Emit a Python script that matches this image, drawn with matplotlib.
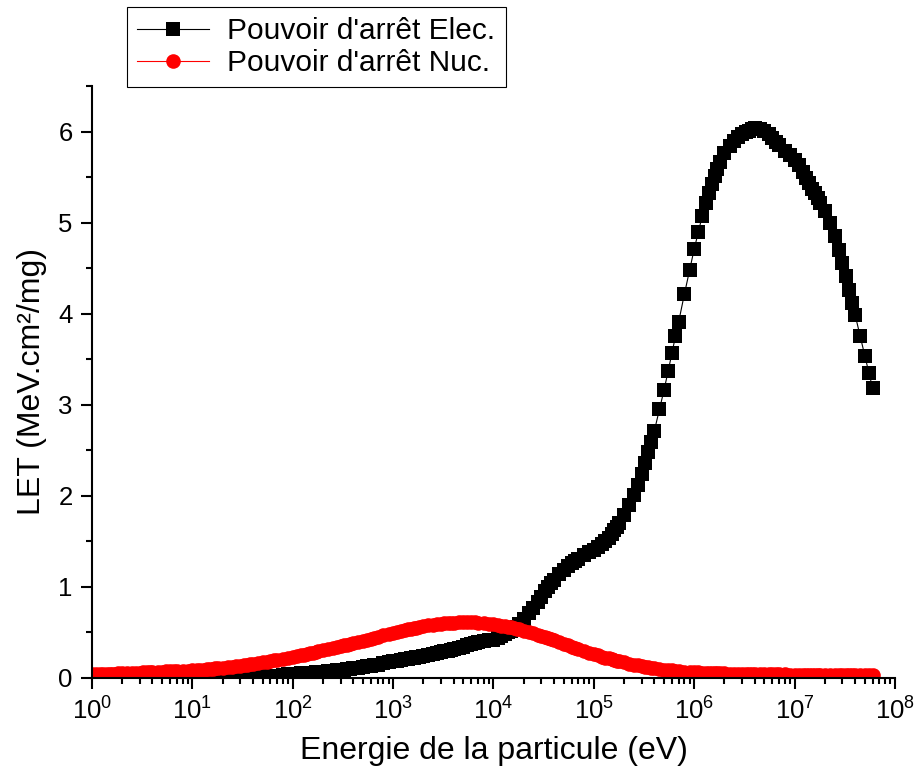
import matplotlib
matplotlib.use('Agg')
import matplotlib.pyplot as plt
from matplotlib.ticker import FixedLocator, LogLocator, MultipleLocator

plt.rcParams['font.family'] = ['Liberation Sans', 'DejaVu Sans']
plt.rcParams['mathtext.fontset'] = 'custom'
plt.rcParams['mathtext.rm'] = 'Liberation Sans'
plt.rcParams['mathtext.it'] = 'Liberation Sans:italic'

# grille d'énergie de la table SRIM (pas dans chaque décade)
srim_steps = [1.0, 1.1, 1.2, 1.3, 1.4, 1.5, 1.6, 1.7, 1.8, 2.0, 2.25, 2.5, 2.75,
              3.0, 3.25, 3.5, 3.75, 4.0, 4.5, 5.0, 5.5, 6.0, 6.5, 7.0, 8.0, 9.0]

# pouvoir d'arrêt électronique (MeV.cm2/mg), une liste par décade, 1 eV -> 60 MeV
elec_d0 = [.0010, .0011, .0011, .0012, .0012, .0013, .0013, .0014, .0014, .0015, .0016, .0017, .0018,
           .0019, .0020, .0021, .0022, .0023, .0024, .0026, .0027, .0029, .0030, .0031, .0034, .0036]
elec_d1 = [.0038, .0041, .0044, .0047, .0050, .0053, .0056, .0059, .0062, .0068, .0076, .0084, .0092,
           .0100, .0108, .0116, .0124, .013, .015, .017, .019, .021, .024, .026, .033, .039]
elec_d2 = [.045, .048, .050, .053, .055, .058, .060, .062, .065, .069, .074, .079, .084,
           .089, .093, .098, .102, .106, .114, .121, .128, .135, .142, .148, .160, .172]
elec_d3 = [.183, .190, .197, .204, .210, .216, .222, .228, .234, .244, .255, .265, .275,
           .284, .293, .301, .309, .317, .331, .345, .357, .369, .380, .390, .404, .413]
elec_d4 = [0.42, 0.44, 0.46, 0.48, 0.50, 0.52, 0.54, 0.56, 0.59, 0.65, 0.71, 0.77, 0.83,
           0.89, 0.95, 1.00, 1.04, 1.08, 1.14, 1.19, 1.23, 1.26, 1.29, 1.31, 1.35, 1.38]
elec_d5 = [1.41, 1.44, 1.47, 1.50, 1.54, 1.58, 1.62, 1.66, 1.70, 1.79, 1.90, 2.01, 2.12,
           2.24, 2.36, 2.48, 2.59, 2.71, 2.95, 3.16, 3.37, 3.57, 3.75, 3.91, 4.22, 4.48]
elec_d6 = [4.71, 4.90, 5.07, 5.21, 5.32, 5.42, 5.51, 5.59, 5.66, 5.76, 5.84, 5.90, 5.94,
           5.97, 5.99, 6.01, 6.03, 6.04, 6.03, 6.01, 5.97, 5.93, 5.89, 5.85, 5.79, 5.74]
elec_d7 = [5.69, 5.63, 5.56, 5.49, 5.43, 5.37, 5.32, 5.27, 5.22, 5.13, 5.00, 4.85, 4.70,
           4.56, 4.41, 4.26, 4.12, 3.99, 3.75, 3.54, 3.35, 3.18]

# pouvoir d'arrêt nucléaire (MeV.cm2/mg)
nuc_d0 = [.042, .043, .044, .045, .046, .047, .048, .049, .050, .052, .054, .056, .058,
          .060, .061, .063, .064, .065, .068, .070, .072, .074, .076, .077, .080, .082]
nuc_d1 = [.084, .087, .090, .093, .096, .099, .102, .105, .108, .113, .119, .125, .131,
          .136, .141, .146, .151, .156, .165, .173, .181, .188, .195, .201, .213, .223]
nuc_d2 = [.233, .242, .250, .258, .265, .272, .279, .285, .291, .302, .315, .327, .338,
          .348, .358, .367, .375, .383, .397, .410, .422, .433, .443, .452, .469, .483]
nuc_d3 = [.496, .507, .517, .526, .534, .541, .548, .554, .559, .568, .577, .585, .591,
          .596, .600, .603, .606, .608, .611, .612, .612, .611, .610, .608, .603, .597]
nuc_d4 = [.590, .583, .576, .569, .562, .555, .548, .541, .534, .520, .504, .489, .475,
          .461, .448, .436, .424, .413, .393, .375, .358, .343, .330, .318, .296, .278]
nuc_d5 = [.262, .248, .236, .225, .215, .206, .198, .190, .183, .171, .158, .147, .138,
          .130, .123, .117, .112, .107, .099, .093, .088, .083, .079, .076, .071, .067]
nuc_d6 = [.063, .061, .059, .057, .056, .055, .054, .053, .052, .050, .049, .048, .047,
          .046, .045, .045, .044, .044, .043, .042, .041, .041, .040, .040, .039, .038]
nuc_d7 = [.037, .037, .036, .036, .036, .035, .035, .035, .034, .034, .034, .033, .033,
          .033, .032, .032, .032, .032, .031, .031, .031, .030]

decade_ticks = [1, 1e1, 1e2, 1e3, 1e4, 1e5, 1e6, 1e7, 1e8]

elec_decades = [elec_d0, elec_d1, elec_d2, elec_d3, elec_d4, elec_d5, elec_d6, elec_d7]
nuc_decades = [nuc_d0, nuc_d1, nuc_d2, nuc_d3, nuc_d4, nuc_d5, nuc_d6, nuc_d7]

energy = []
elec = []
nuc = []
for k in range(len(elec_decades)):
    for i in range(len(elec_decades[k])):
        energy.append(srim_steps[i] * 10 ** k)
        elec.append(elec_decades[k][i])
        nuc.append(nuc_decades[k][i])

fig = plt.figure(figsize=(9.18, 7.83), dpi=100)
ax = fig.add_axes([0.1002, 0.1341, 0.8747, 0.7561])

ax.plot(energy, elec, color='black', lw=0.8, marker='s', ms=9.5,
        mfc='black', mec='black', mew=0, label="Pouvoir d'arrêt Elec.")
ax.plot(energy, nuc, color='red', lw=0.8, marker='o', ms=10.5,
        mfc='red', mec='red', mew=0, label="Pouvoir d'arrêt Nuc.")

ax.set_xscale('log')
ax.set_xlim(1, 1e8)
ax.set_ylim(0, 6.5)
ax.xaxis.set_major_locator(FixedLocator(decade_ticks))
ax.xaxis.set_minor_locator(LogLocator(base=10, subs=range(2, 10), numticks=100))
ax.yaxis.set_major_locator(MultipleLocator(1))
ax.yaxis.set_minor_locator(MultipleLocator(0.5))

ax.spines['top'].set_visible(False)
ax.spines['right'].set_visible(False)
for side in ['left', 'bottom']:
    ax.spines[side].set_linewidth(1.5)
ax.tick_params(which='major', direction='out', length=8, width=1.5, labelsize=18.5, pad=6)
ax.tick_params(which='minor', direction='out', length=4.5, width=1.5)

ax.set_xlabel('Energie de la particule (eV)', fontsize=23, labelpad=8)
ax.set_ylabel('LET (MeV.cm²/mg)', fontsize=23, labelpad=8)

leg = fig.legend(loc='upper left', bbox_to_anchor=(127 / 918, 1 - 7 / 783),
                 fontsize=21.5, frameon=True, fancybox=False, edgecolor='black',
                 framealpha=1, handlelength=2.4, handletextpad=0.6,
                 borderpad=0.35, labelspacing=0.12, borderaxespad=0)
leg.get_frame().set_linewidth(0.8)

fig.savefig('out.png', dpi=100)
